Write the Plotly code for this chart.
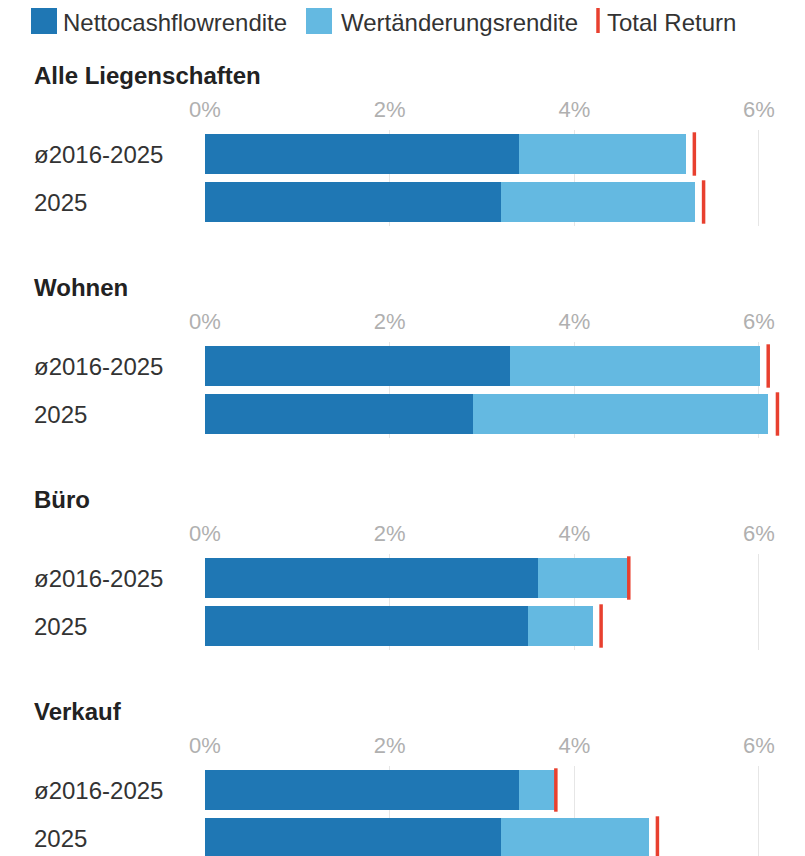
import plotly.graph_objects as go
from plotly.subplots import make_subplots

panels = ["Alle Liegenschaften", "Wohnen", "Büro", "Verkauf"]
categories = ["ø2016-2025", "2025"]
netto = [[3.40, 3.21], [3.30, 2.90], [3.61, 3.50], [3.40, 3.21]]
wert = [[1.81, 2.10], [2.71, 3.20], [0.97, 0.70], [0.39, 1.60]]
total = [[5.30, 5.40], [6.10, 6.20], [4.59, 4.29], [3.80, 4.90]]
tick_vals = [0, 2, 4, 6]
tick_text = ["0%", "2%", "4%", "6%"]

DARK = "#1f77b4"
LIGHT = "#64b9e1"
RED = "#e8402f"
FONT = "Liberation Sans, Arial, sans-serif"

OFF = 8  # page body margin
W, H = 805, 856
ML, MR = 205 - OFF, 10
PW = W - ML - MR
PX_PER_PCT = 92.33
XMAX = PW / PX_PER_PCT
CAT_PX = 48.0


def py(px):
    return 1 - (px - OFF) / H


def pxx(px):
    return (px - OFF - ML) / PW


fig = make_subplots(rows=4, cols=1)

for i, name in enumerate(panels):
    r = i + 1
    fig.add_trace(go.Bar(y=categories, x=netto[i], orientation="h", marker_color=DARK,
                         marker_line_width=0, width=40 / 48, showlegend=False,
                         name="Nettocashflowrendite"), row=r, col=1)
    fig.add_trace(go.Bar(y=categories, x=wert[i], orientation="h", marker_color=LIGHT,
                         marker_line_width=0, width=40 / 48, showlegend=False,
                         name="Wertänderungsrendite"), row=r, col=1)
    fig.add_trace(go.Scatter(y=categories, x=total[i], mode="markers", showlegend=False,
                             name="Total Return",
                             marker=dict(symbol="line-ns", size=31,
                                         line=dict(color=RED, width=3.5))), row=r, col=1)
    top = 130 + 212 * i
    bot = min(top + 96, H + OFF)
    ymax = -0.5 + (bot - top) / CAT_PX
    yname = "yaxis" if r == 1 else f"yaxis{r}"
    xname = "xaxis" if r == 1 else f"xaxis{r}"
    fig.layout[yname].update(domain=[max(py(bot), 0), py(top)], range=[ymax, -0.5],
                             type="category", categoryorder="array", categoryarray=categories,
                             showticklabels=False, showgrid=False, zeroline=False)
    fig.layout[xname].update(range=[0, XMAX], tickvals=tick_vals, ticktext=tick_text,
                             side="top", showgrid=True, gridcolor="#e6e6e6", gridwidth=1,
                             zeroline=False, showline=False, ticks="", ticklabelstandoff=8,
                             tickfont=dict(size=22, color="#b0b0b0", family=FONT))
    # panel title
    fig.add_annotation(text=f"<b>{name}</b>", xref="paper", yref="paper",
                       x=pxx(32), y=py(75 + 212 * i), xanchor="left", yanchor="middle",
                       showarrow=False, font=dict(size=24, color="#222222", family=FONT))
    yref = "y" if r == 1 else f"y{r}"
    for j, c in enumerate(categories):
        fig.add_annotation(text=c, xref="paper", yref=yref, x=pxx(32), y=j,
                           xanchor="left", yanchor="middle", showarrow=False,
                           font=dict(size=24, color="#333333", family=FONT))

# Legend (drawn manually)
leg_items = [("Nettocashflowrendite", DARK, 31, 62), ("Wertänderungsrendite", LIGHT, 306, 340)]
for label, col, x0, tx in leg_items:
    fig.add_shape(type="rect", xref="paper", yref="paper", x0=pxx(x0), x1=pxx(x0 + 26),
                  y0=py(34), y1=py(7), fillcolor=col, line_width=0)
    fig.add_annotation(text=label, xref="paper", yref="paper", x=pxx(tx), y=1,
                       xanchor="left", yanchor="top", showarrow=False, borderpad=0,
                       font=dict(size=24, color="#333333", family=FONT))
fig.add_shape(type="line", xref="paper", yref="paper", x0=pxx(598), x1=pxx(598),
              y0=py(33), y1=py(8), line=dict(color=RED, width=3.5))
fig.add_annotation(text="Total Return", xref="paper", yref="paper", x=pxx(606), y=1,
                   xanchor="left", yanchor="top", showarrow=False, borderpad=0,
                   font=dict(size=24, color="#333333", family=FONT))

fig.update_layout(width=W, height=H, barmode="stack", bargap=0,
                  margin=dict(l=ML, r=MR, t=0, b=0),
                  paper_bgcolor="white", plot_bgcolor="white",
                  font=dict(family=FONT), showlegend=False)

fig.write_html("out.html")
